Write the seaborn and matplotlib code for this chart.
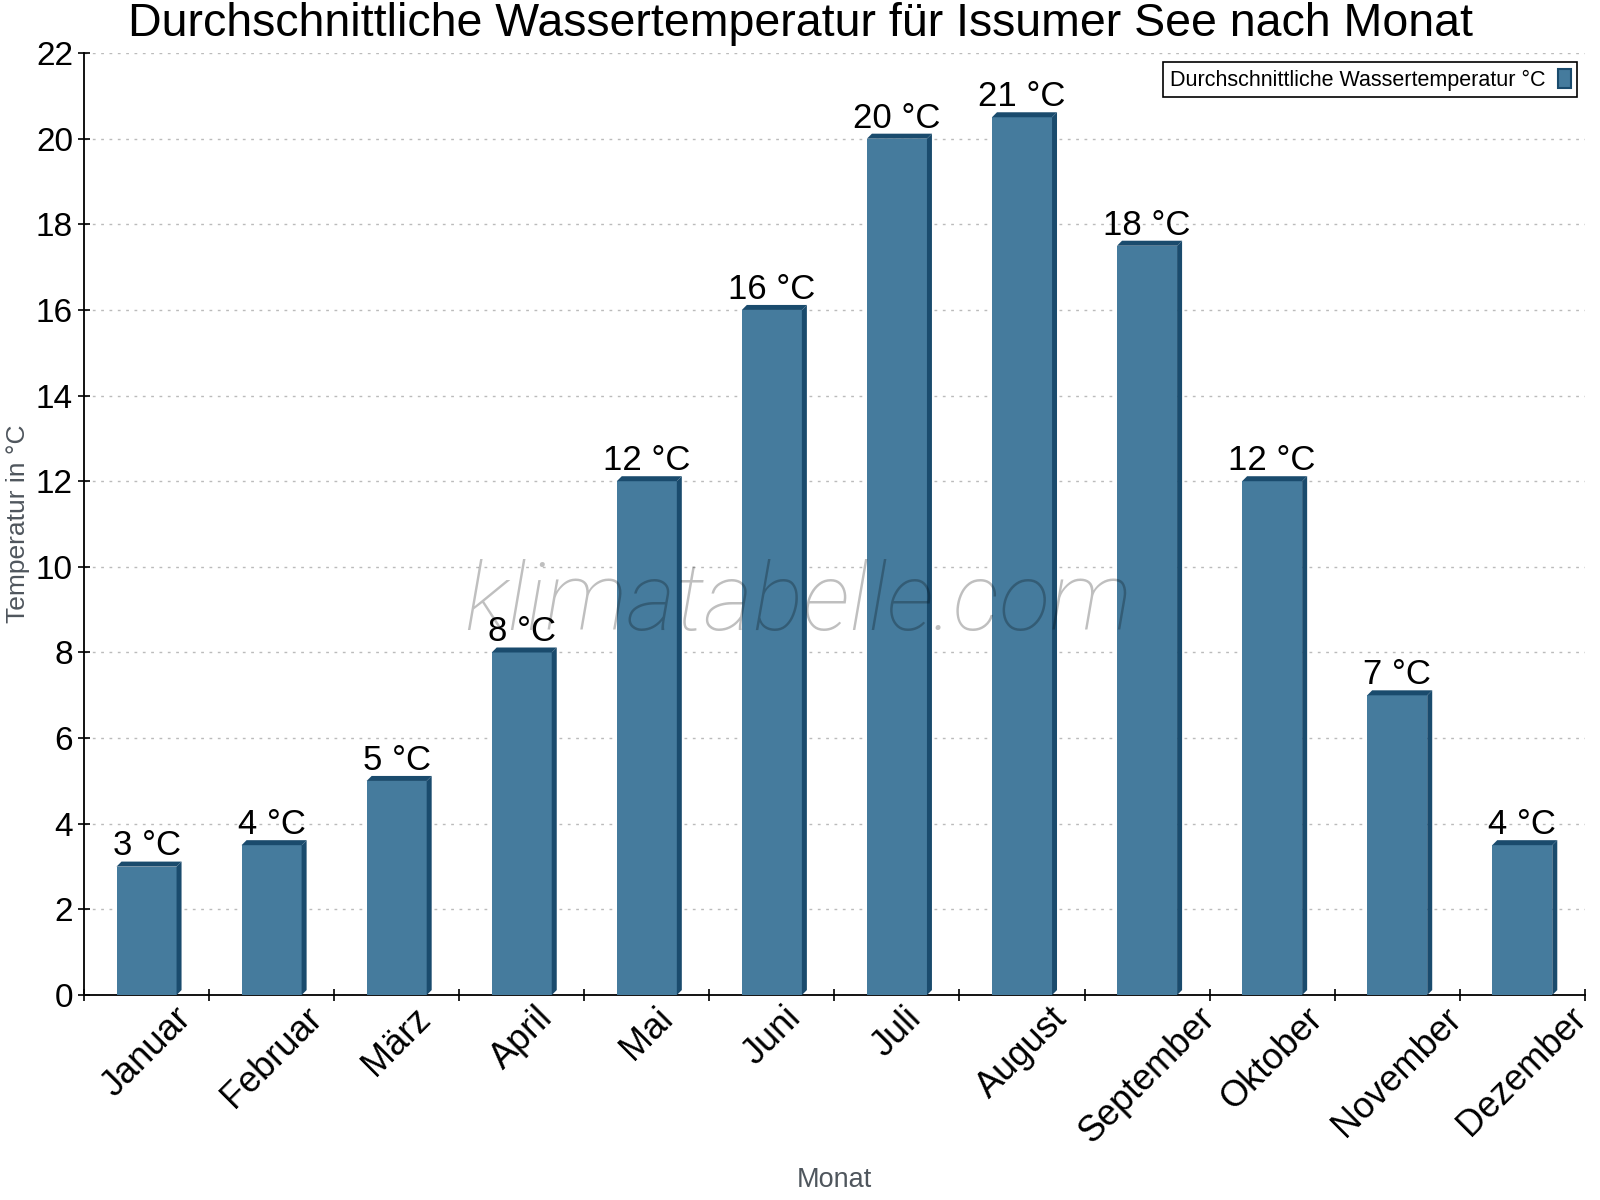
#!/usr/bin/env python3
"""Bar chart of average monthly water temperature for Issumer See."""

import math

import matplotlib.pyplot as plt
import pandas as pd
import seaborn as sns
from matplotlib.patches import Polygon

MONTHS = ["Januar", "Februar", "März", "April", "Mai", "Juni", "Juli",
          "August", "September", "Oktober", "November", "Dezember"]
WATER_TEMP = [3.0, 3.5, 5.0, 8.0, 12.0, 16.0, 20.0, 20.5, 17.5, 12.0, 7.0, 3.5]
Y_TICKS = list(range(0, 23, 2))

TITLE = "Durchschnittliche Wassertemperatur für Issumer See nach Monat"
SERIES = "Durchschnittliche Wassertemperatur °C"
FRONT = "#457b9d"
DARK = "#1a4b6d"

sns.set_theme(style="white")
plt.rcParams['font.family'] = ['Liberation Sans', 'DejaVu Sans']
plt.rcParams['text.color'] = "black"
plt.rcParams['axes.unicode_minus'] = False


def add_depth(ax, px=5):
    """Draw the fake 3D top and side faces next to every bar."""
    bbox = ax.get_window_extent()
    x0, x1 = ax.get_xlim()
    y0, y1 = ax.get_ylim()
    dx = px * (x1 - x0) / bbox.width
    dy = px * (y1 - y0) / bbox.height
    for p in list(ax.patches):
        x, w, h = p.get_x(), p.get_width(), p.get_height()
        top = [(x, h), (x + dx, h + dy), (x + w + dx, h + dy), (x + w, h)]
        side = [(x + w, 0), (x + w, h), (x + w + dx, h + dy), (x + w + dx, dy)]
        for verts in (top, side):
            ax.add_patch(Polygon(verts, closed=True, facecolor=DARK,
                                 edgecolor="none", zorder=3, clip_on=False))


def main():
    df = pd.DataFrame({"Monat": MONTHS, "Temp": WATER_TEMP})

    fig = plt.figure(figsize=(16, 12), dpi=100)
    ax = fig.add_axes([0.0525, 0.1708, 0.938, 0.785])

    sns.barplot(data=df, x="Monat", y="Temp", color=FRONT, saturation=1,
                width=0.48, label=SERIES, ax=ax, zorder=3, linewidth=0)
    ax.set_xlim(-0.5, len(MONTHS) - 0.5)
    ax.set_ylim(0, 22)
    ax.set_yticks(Y_TICKS)
    add_depth(ax)

    # Value labels, rounded half up
    labels = [f"{math.floor(v + 0.5)} °C" for v in WATER_TEMP]
    ax.bar_label(ax.containers[0], labels=labels, padding=3, fontsize=25,
                 color="black", zorder=5)

    # Axes styling
    ax.yaxis.grid(True, linestyle=(0, (2, 4)), color="#bbbbbb", linewidth=1)
    ax.set_axisbelow(True)
    sns.despine(ax=ax)
    for side in ("left", "bottom"):
        ax.spines[side].set_color("black")
        ax.spines[side].set_linewidth(1.3)
    ax.tick_params(axis="y", direction="inout", length=8, width=1.2,
                   labelsize=24, colors="black", pad=4, left=True)
    ax.set_xticks(range(len(MONTHS)))
    ax.set_xticklabels(MONTHS, rotation=45, ha="center", fontsize=26)
    ax.tick_params(axis="x", which="major", length=0, pad=4,
                   colors="black")
    ax.set_xticks([i - 0.5 for i in range(len(MONTHS) + 1)], minor=True)
    ax.tick_params(axis="x", which="minor", direction="inout", length=8,
                   width=1.2, bottom=True, color="black")

    ax.set_xlabel("Monat", fontsize=19.5, color="#4f565d", labelpad=12)
    ax.set_ylabel("Temperatur in °C", fontsize=19, color="#4f565d",
                  labelpad=4)
    fig.suptitle(TITLE, fontsize=33.5, y=0.998, va="top", color="black")

    # Legend, marker after the text
    leg = ax.legend(loc="upper right", bbox_to_anchor=(0.998, 0.995),
                    markerfirst=False, fancybox=False, framealpha=1,
                    edgecolor="black", fontsize=15.5, handlelength=0.6,
                    handleheight=1.0, borderaxespad=0.2, borderpad=0.3,
                    handletextpad=0.6)
    leg.get_frame().set_linewidth(1.2)
    for h in leg.legend_handles:
        h.set_edgecolor(DARK)
        h.set_linewidth(1.5)

    # Watermark
    ax.text(0.476, 0.415, "klimatabelle.com", transform=ax.transAxes,
            family=["Roboto", "Liberation Sans"], fontsize=68,
            fontstyle="italic", fontweight="light", color="black",
            alpha=0.25, ha="center", va="center", zorder=6)

    plt.savefig("out.png", dpi=100)


if __name__ == '__main__':
    main()
